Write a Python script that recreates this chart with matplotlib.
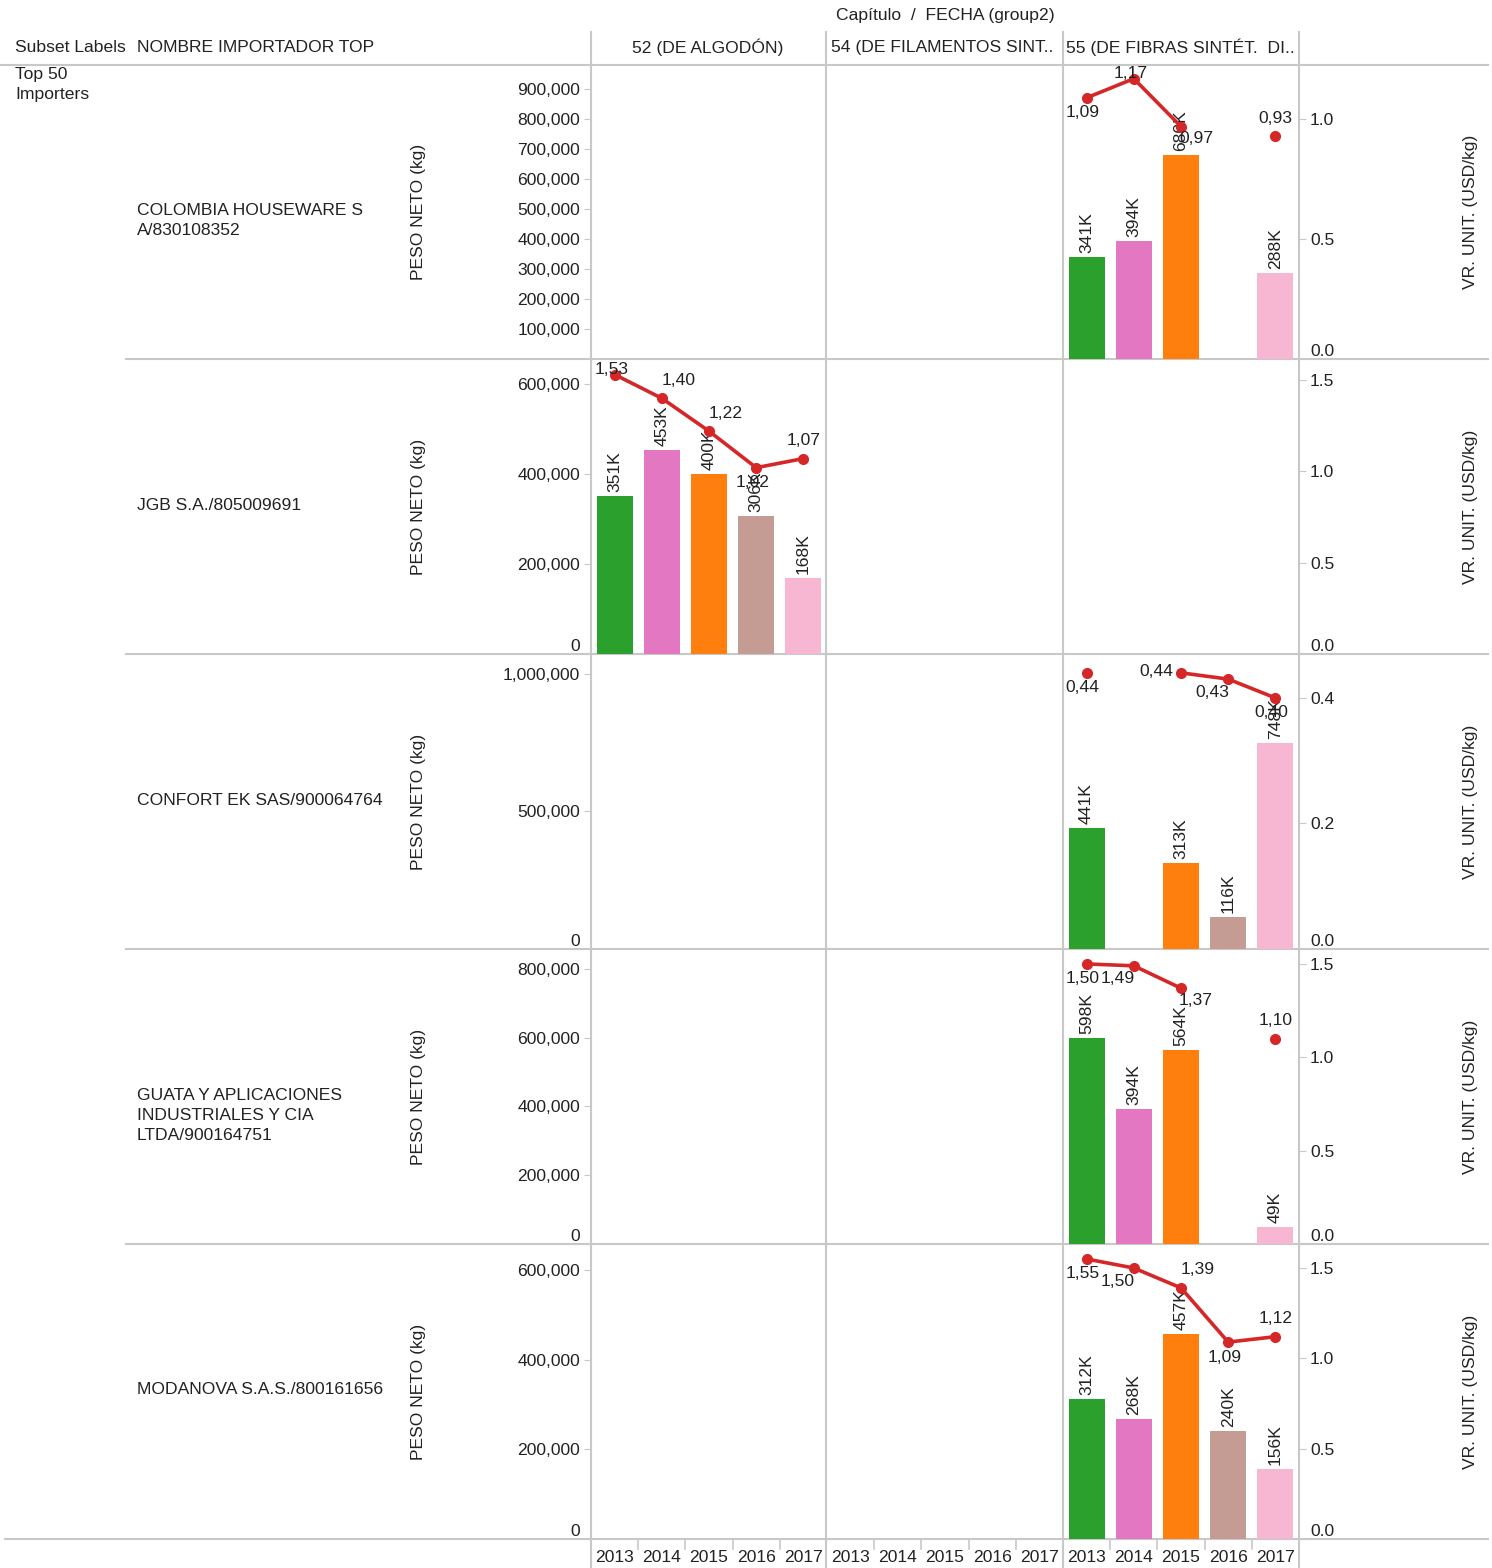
import numpy as np
import matplotlib
matplotlib.use('Agg')
import matplotlib.pyplot as plt

plt.rcParams['font.family'] = ['Liberation Sans', 'DejaVu Sans']

#figure size in pixels
W, H = 1492, 1568

#data
years = ['2013', '2014', '2015', '2016', '2017']
chapters = ['52 (DE ALGODÓN)', '54 (DE FILAMENTOS SINT..', '55 (DE FIBRAS SINTÉT.  DI..']
importers = ['COLOMBIA HOUSEWARE S\nA/830108352',
             'JGB S.A./805009691',
             'CONFORT EK SAS/900064764',
             'GUATA Y APLICACIONES\nINDUSTRIALES Y CIA\nLTDA/900164751',
             'MODANOVA S.A.S./800161656']
#chapter column (0=52, 1=54, 2=55) where each importer has data
chapter_idx = [2, 0, 2, 2, 2]
#PESO NETO in thousands of kg
peso_k = [[341, 394, 680, np.nan, 288],
          [351, 453, 400, 306, 168],
          [441, np.nan, 313, 116, 748],
          [598, 394, 564, np.nan, 49],
          [312, 268, 457, 240, 156]]
#VR. UNIT. (USD/kg)
vr_unit = [[1.09, 1.17, 0.97, np.nan, 0.93],
           [1.53, 1.40, 1.22, 1.02, 1.07],
           [0.44, np.nan, 0.44, 0.43, 0.40],
           [1.50, 1.49, 1.37, np.nan, 1.10],
           [1.55, 1.50, 1.39, 1.09, 1.12]]

#styling / layout
year_colors = ['#2ca02c', '#e377c2', '#ff7f0e', '#c49c94', '#f7b6d2']
line_color = '#d62728'
grid = '#c8c8c8'
txt = '#222222'
fs = 12.6
row_edges = [65, 359, 654, 949, 1244, 1539]
panel_x = [591, 826, 1063, 1299]
left_lim = [980000, 655000, 1071000, 858000, 658000]
left_ticks = [np.arange(100000, 900001, 100000), np.arange(0, 600001, 200000),
              [0, 500000, 1000000], np.arange(0, 800001, 200000), np.arange(0, 600001, 200000)]
right_lim = [1.227, 1.615, 0.47, 1.58, 1.633]
right_ticks = [[0, 0.5, 1.0], [0, 0.5, 1.0, 1.5], [0, 0.2, 0.4], [0, 0.5, 1.0, 1.5], [0, 0.5, 1.0, 1.5]]
#where each unit label sits relative to its point
label_pos = [['b', 'c', 'br', None, 'a'],
             ['c', 'ar', 'ar', 'b', 'a'],
             ['b', None, 'l', 'bl', 'b'],
             ['b', 'bl', 'br', None, 'a'],
             ['b', 'bl', 'ar', 'b', 'a']]
offsets = {'a': (0, 18), 'b': (-4, -15), 'c': (-3, 5), 'ar': (17, 18),
           'br': (15, -12), 'bl': (-16, -13), 'l': (-25, 1)}

fig = plt.figure(figsize=(W / 100, H / 100), dpi=100)

#background axes in pixel coordinates for grid lines and header text
bg = fig.add_axes([0, 0, 1, 1])
bg.set_xlim(0, W)
bg.set_ylim(H, 0)
bg.axis('off')

bg.plot([0, 1488], [65, 65], color=grid, lw=1.5)
for y in row_edges[1:-1]:
    bg.plot([126, 1488], [y, y], color=grid, lw=1.5)
bg.plot([5, 1488], [1539, 1539], color=grid, lw=1.5)
for x in panel_x:
    bg.plot([x, x], [32, H], color=grid, lw=1.5)
#small separators between years on the bottom axis
slot = (panel_x[-1] - panel_x[0]) / 15
for k in range(1, 15):
    if k % 5:
        xx = panel_x[0] + k * slot
        bg.plot([xx, xx], [1539, 1549], color=grid, lw=1.2)

bg.text(945, 15, 'Capítulo  /  FECHA (group2)', ha='center', va='center', fontsize=fs, color=txt)
bg.text(15, 47, 'Subset Labels', ha='left', va='center', fontsize=fs, color=txt)
bg.text(137, 47, 'NOMBRE IMPORTADOR TOP', ha='left', va='center', fontsize=fs, color=txt)
bg.text(708, 47, chapters[0], ha='center', va='center', fontsize=fs, color=txt)
bg.text(831, 47, chapters[1], ha='left', va='center', fontsize=fs, color=txt)
bg.text(1066, 47, chapters[2], ha='left', va='center', fontsize=fs, color=txt)
bg.text(15, 67, 'Top 50\nImporters', ha='left', va='top', fontsize=fs, color=txt, linespacing=1.45)

for r in range(5):
    top, bot = row_edges[r], row_edges[r + 1]
    mid = (top + bot) / 2
    bg.text(137, mid - 9, importers[r], ha='left', va='top', fontsize=fs, color=txt, linespacing=1.45)
    bg.text(418, mid, 'PESO NETO (kg)', rotation=90, ha='center', va='center', fontsize=fs, color=txt)
    bg.text(1471, mid, 'VR. UNIT. (USD/kg)', rotation=90, ha='center', va='center', fontsize=fs, color=txt)

    ax = fig.add_axes([panel_x[0] / W, 1 - bot / H, (panel_x[-1] - panel_x[0]) / W, (bot - top) / H])
    ax.set_facecolor('none')
    for s in ax.spines.values():
        s.set_visible(False)
    ax.set_xlim(0, 15)
    ax.set_ylim(0, left_lim[r])

    xs = chapter_idx[r] * 5 + np.arange(5) + 0.5
    vals = np.array(peso_k[r], dtype=float) * 1000
    ax.bar(xs, np.nan_to_num(vals), width=0.76, color=year_colors)
    for x, v in zip(xs, vals):
        if not np.isnan(v):
            ax.annotate('%dK' % round(v / 1000), (x, v), xytext=(0, 4), textcoords='offset pixels',
                        rotation=90, ha='center', va='bottom', fontsize=fs, color=txt)

    ax.set_yticks(left_ticks[r])
    ax.set_yticklabels(['{:,}'.format(int(t)) for t in left_ticks[r]])
    ax.tick_params(axis='y', length=5, color=grid, labelsize=fs, labelcolor=txt, pad=3)
    if left_ticks[r][0] == 0:
        ax.yaxis.get_major_ticks()[0].label1.set_verticalalignment('bottom')

    if r == 4:
        ax.set_xticks(np.arange(15) + 0.5)
        ax.set_xticklabels(years * 3)
        ax.tick_params(axis='x', length=0, labelsize=fs, labelcolor=txt, pad=8)
    else:
        ax.set_xticks([])

    ax2 = ax.twinx()
    for s in ax2.spines.values():
        s.set_visible(False)
    ax2.set_ylim(0, right_lim[r])
    ax2.plot(xs, vr_unit[r], color=line_color, lw=2.6, marker='o', ms=7)
    for x, v, p in zip(xs, vr_unit[r], label_pos[r]):
        if p is None or np.isnan(v):
            continue
        dx, dy = offsets[p]
        ax2.annotate(('%.2f' % v).replace('.', ','), (x, v), xytext=(dx, dy), textcoords='offset pixels',
                     ha='center', va='center', fontsize=fs, color=txt)
    ax2.set_yticks(right_ticks[r])
    ax2.set_yticklabels(['%.1f' % t for t in right_ticks[r]])
    ax2.tick_params(axis='y', length=5, color=grid, labelsize=fs, labelcolor=txt, pad=3)
    ax2.yaxis.get_major_ticks()[0].label2.set_verticalalignment('bottom')

fig.savefig('out.png', dpi=100)
